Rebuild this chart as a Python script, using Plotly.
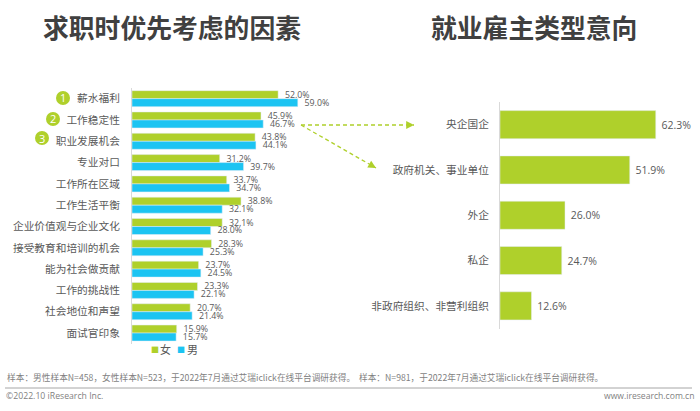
import plotly.graph_objects as go

# Left chart data
factors = ["薪水福利", "工作稳定性", "职业发展机会", "专业对口", "工作所在区域", "工作生活平衡",
           "企业价值观与企业文化", "接受教育和培训的机会", "能为社会做贡献", "工作的挑战性",
           "社会地位和声望", "面试官印象"]
female = [52.0, 45.9, 43.8, 31.2, 33.7, 38.8, 32.1, 28.3, 23.7, 23.3, 20.7, 15.9]
male = [59.0, 46.7, 44.1, 39.7, 34.7, 32.1, 28.0, 25.3, 24.5, 22.1, 21.4, 15.7]

# Right chart data
employers = ["央企国企", "政府机关、事业单位", "外企", "私企", "非政府组织、非营利组织"]
employer_share = [62.3, 51.9, 26.0, 24.7, 12.6]

W, H = 700, 411
GREEN = "#AFD02B"
BLUE = "#1CC4F2"
TEXT = "#595959"
CJK = "Noto Sans CJK SC"
NUM = "Open Sans, Noto Sans CJK SC"


def px(x):
    return x / W


def py(y):
    return 1 - y / H


def label(x, y, text, size, color=TEXT, anchor="left", family=CJK):
    return dict(x=px(x), y=py(y), xref="paper", yref="paper", text=text, showarrow=False,
                xanchor=anchor, yanchor="middle", font=dict(family=family, size=size, color=color))


fig = go.Figure()

fig.add_trace(go.Bar(y=factors, x=female, name="女", orientation="h", marker_color=GREEN,
                     text=[f"\u00a0\u2009{v:.1f}%" for v in female], textposition="outside", cliponaxis=False,
                     constraintext="none",
                     textfont=dict(family=NUM, size=8.8, color=TEXT), xaxis="x", yaxis="y"))
fig.add_trace(go.Bar(y=factors, x=male, name="男", orientation="h", marker_color=BLUE,
                     text=[f"\u00a0\u2009{v:.1f}%" for v in male], textposition="outside", cliponaxis=False,
                     constraintext="none",
                     textfont=dict(family=NUM, size=8.8, color=TEXT), xaxis="x", yaxis="y"))
fig.add_trace(go.Bar(y=employers, x=employer_share, orientation="h", marker_color=GREEN, width=0.62,
                     text=[f"\u00a0{v:.1f}%" for v in employer_share], textposition="outside", cliponaxis=False,
                     constraintext="none",
                     textfont=dict(family=NUM, size=10.5, color=TEXT), xaxis="x2", yaxis="y2"))

annotations = [
    label(172, 26, "<b>求职时优先考虑的因素</b>", 25.8, "#404040", "center"),
    label(533.5, 26, "<b>就业雇主类型意向</b>", 25.8, "#404040", "center"),
    # legend
    label(148.5, 349.5, f"<span style='color:{GREEN}'>■</span>", 8),
    label(158, 349, "女", 11),
    label(175, 349.5, f"<span style='color:{BLUE}'>■</span>", 8),
    label(185, 349, "男", 11),
    # footer
    label(5, 377, "样本：男性样本N=458，女性样本N=523，于2022年7月通过艾瑞iclick在线平台调研获得。"
                  "  样本：N=981，于2022年7月通过艾瑞iclick在线平台调研获得。", 8.7, "#7F7F7F"),
    label(4, 396, "©2022.10 iResearch Inc.", 8.7, "#7F7F7F", family=NUM),
    label(696, 396, "www.iresearch.com.cn", 8.6, "#7F7F7F", "right", NUM),
]

shapes = [dict(type="line", xref="paper", yref="paper", x0=px(5), x1=px(692), y0=py(388), y1=py(388),
               line=dict(color="#A6A6A6", width=1))]

# numbered badges for the top three factors
for num, cx, cy in [("1", 63, 98), ("2", 53, 119), ("3", 42, 138)]:
    shapes.append(dict(type="circle", xref="paper", yref="paper", x0=px(cx - 7), x1=px(cx + 7),
                       y0=py(cy - 7), y1=py(cy + 7), fillcolor=GREEN, line_width=0))
    annotations.append(label(cx, cy, num, 11, "white", "center", NUM))

# dashed arrows from the left chart to the right chart
for x1, y1 in [(414, 125), (376, 168)]:
    shapes.append(dict(type="line", xref="paper", yref="paper", x0=px(301), y0=py(125), x1=px(x1), y1=py(y1),
                       line=dict(color=GREEN, width=1.3, dash="4px,3px")))
    annotations.append(dict(x=px(x1), y=py(y1), xref="paper", yref="paper", ax=(301 - x1) * 0.06,
                            ay=(125 - y1) * 0.06, axref="pixel", ayref="pixel", text="", showarrow=True,
                            arrowhead=2, arrowsize=1.2, arrowwidth=1.3, arrowcolor=GREEN))

fig.update_layout(
    width=W, height=H,
    margin=dict(l=0, r=0, t=0, b=0),
    paper_bgcolor="white", plot_bgcolor="white",
    showlegend=False,
    barmode="group", bargap=0.25, bargroupgap=0,
    font=dict(family=CJK, color=TEXT),
    xaxis=dict(domain=[px(132), px(320)], range=[0, 66.9], visible=False),
    yaxis=dict(domain=[py(343.7), py(88)], autorange="reversed", anchor="x", showgrid=False,
               showline=True, linecolor="#D9D9D9", linewidth=1, ticks="", ticklabelstandoff=9,
               tickfont=dict(family=CJK, size=10.7, color=TEXT)),
    xaxis2=dict(domain=[px(500), px(680)], range=[0, 72], visible=False, anchor="y2"),
    yaxis2=dict(domain=[py(328.5), py(102)], autorange="reversed", anchor="x2", showgrid=False,
                showline=True, linecolor="#D9D9D9", linewidth=1, ticks="", ticklabelstandoff=8,
                tickfont=dict(family=CJK, size=10.7, color=TEXT)),
    annotations=annotations,
    shapes=shapes,
)

fig.write_html("out.html", config=dict(displayModeBar=False), post_script="document.body.style.margin='0';")
